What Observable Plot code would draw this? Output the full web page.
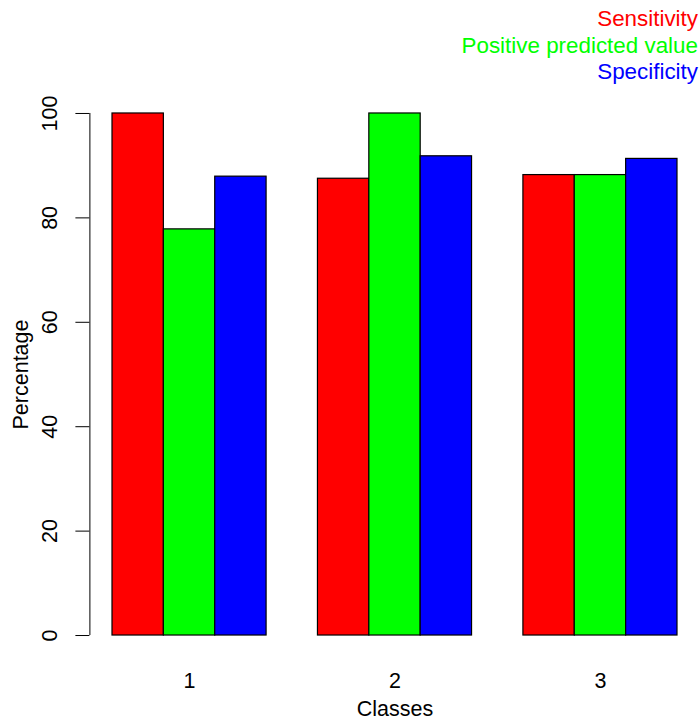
<!DOCTYPE html>
<html>
<head>
<meta charset="utf-8">
<script src="https://cdn.jsdelivr.net/npm/d3@7"></script>
<script src="https://cdn.jsdelivr.net/npm/@observablehq/plot@0.6"></script>
<style>
  html, body { margin: 0; padding: 0; background: #fff; }
  #wrap { position: relative; width: 700px; height: 720px; font-family: "Liberation Sans", Arial, Helvetica, sans-serif; }
  #legend { position: absolute; top: 6px; right: 2px; text-align: right; font-size: 22.4px; line-height: 26.5px; white-space: nowrap; }
</style>
</head>
<body>
<div id="wrap"><div id="legend"></div></div>
<script>
// ---- data ----
const classes = ["1", "2", "3"];
const metrics = ["Sensitivity", "Positive predicted value", "Specificity"];
const colors = ["#FF0000", "#00FF00", "#0000FF"];
const sensitivity = [100, 87.5, 88.2];
const ppv = [77.8, 100, 88.2];
const specificity = [87.9, 91.8, 91.3];
const yTicks = [0, 20, 40, 60, 80, 100];
const xLabel = "Classes";
const yLabel = "Percentage";

// ---- table (R barplot beside=TRUE layout: width 1, space c(0,1)) ----
const series = [sensitivity, ppv, specificity];
const nS = metrics.length;
const rows = [];
classes.forEach((c, gi) => {
  metrics.forEach((m, si) => {
    const left = gi * (nS + 1) + 1 + si;
    rows.push({cls: c, metric: m, value: series[si][gi], x1: left, x2: left + 1});
  });
});
const groupCenters = classes.map((c, gi) => ({cls: c, x: gi * (nS + 1) + 1 + nS / 2}));
const xMin = 1, xMax = classes.length * (nS + 1);
const xPad = (xMax - xMin) * 0.04;
const xDomain = [xMin - xPad, xMax + xPad];
const yPad = (d3.max(yTicks) - d3.min(yTicks)) * 0.04;
const yDomain = [d3.min(yTicks) - yPad, d3.max(yTicks) + yPad];
const fs = 21.5;

const chart = Plot.plot({
  width: 700,
  height: 720,
  marginLeft: 89.4,
  marginRight: 0.4,
  marginTop: 92.1,
  marginBottom: 64.1,
  style: {fontFamily: '"Liberation Sans", Arial, Helvetica, sans-serif', fontSize: fs + "px", background: "white", color: "black"},
  x: {domain: xDomain, axis: null},
  y: {domain: yDomain, axis: null},
  color: {domain: metrics, range: colors},
  marks: [
    Plot.rectY(rows, {x1: "x1", x2: "x2", y1: 0, y2: "value", fill: "metric", stroke: "black", strokeWidth: 1.2}),
    Plot.axisY({ticks: yTicks, tickSize: 14, tickFormat: () => "", anchor: "left", label: null}),
    Plot.ruleX([xDomain[0]], {y1: d3.min(yTicks), y2: d3.max(yTicks), stroke: "black", strokeWidth: 1}),
    Plot.text(yTicks, {y: d => d, text: d => String(d), frameAnchor: "left", textAnchor: "middle", lineAnchor: "middle", dx: -40, rotate: -90, fontSize: fs, fill: "black"}),
    Plot.text(groupCenters, {x: "x", text: "cls", frameAnchor: "bottom", dy: 25, lineAnchor: "middle", fontSize: fs, fill: "black"}),
    Plot.text([xLabel], {text: d => d, frameAnchor: "bottom", dy: 53, lineAnchor: "middle", fontSize: fs, fill: "black"}),
    Plot.text([yLabel], {text: d => d, frameAnchor: "left", textAnchor: "middle", lineAnchor: "middle", dx: -68.5, rotate: -90, fontSize: fs, fill: "black"})
  ]
});
const wrap = document.getElementById("wrap");
wrap.insertBefore(chart, wrap.firstChild);

const legend = document.getElementById("legend");
metrics.forEach((m, i) => {
  const d = document.createElement("div");
  d.textContent = m;
  d.style.color = colors[i];
  legend.appendChild(d);
});
</script>
</body>
</html>
